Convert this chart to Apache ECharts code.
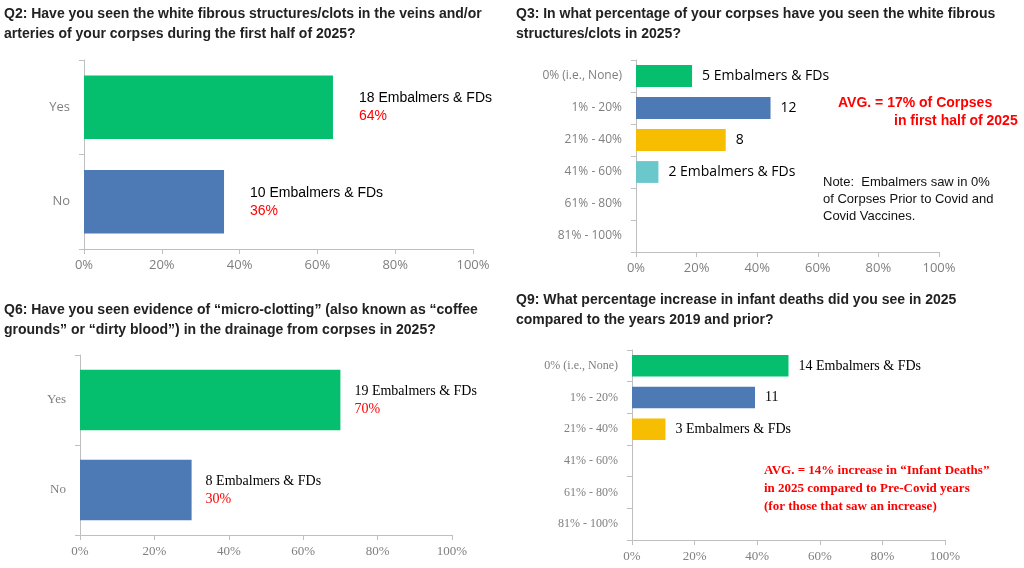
<!DOCTYPE html>
<html>
<head>
<meta charset="utf-8">
<script src="https://cdn.jsdelivr.net/npm/echarts@6/dist/echarts.min.js"></script>
<style>html,body{margin:0;background:#fff}#chart{width:1024px;height:568px}</style>
</head>
<body>
<div id="chart"></div>
<script>
// 数据
const yesNo = ['Yes', 'No'];
const q2Values = [64, 36];
const q2Counts = ['18 Embalmers & FDs', '10 Embalmers & FDs'];
const q6Values = [70, 30];
const q6Counts = ['19 Embalmers & FDs', '8 Embalmers & FDs'];
const ranges = ['0% (i.e., None)', '1% - 20%', '21% - 40%', '41% - 60%', '61% - 80%', '81% - 100%'];
const q3Values = [18.5, 44.4, 29.6, 7.4, 0, 0];
const q3Labels = ['5 Embalmers & FDs', '12', '8', '2 Embalmers & FDs', '', ''];
const q9Values = [50, 39.3, 10.7, 0, 0, 0];
const q9Labels = ['14 Embalmers & FDs', '11', '3 Embalmers & FDs', '', '', ''];
const xTicks = [0, 20, 40, 60, 80, 100];

const GREEN = '#05bf6e', BLUE = '#4d79b4', YELLOW = '#f7bd00', CYAN = '#6ac7cb';
const rangeColors = [GREEN, BLUE, YELLOW, CYAN, CYAN, CYAN];

const chart = echarts.init(document.getElementById('chart'));

const grids = [
  { left: 84, width: 389, top: 60, height: 189 },
  { left: 636, width: 303, top: 60, height: 192 },
  { left: 80, width: 372, top: 355, height: 180 },
  { left: 632, width: 313, top: 350, height: 190 }
];

function xAxis(i, narrow) {
  return {
    gridIndex: i, type: 'value', min: 0, max: 100, interval: 20,
    axisLine: { show: true, lineStyle: { color: '#bfbfbf' } },
    axisTick: { show: true, lineStyle: { color: '#bfbfbf' } },
    splitLine: { show: false },
    axisLabel: { formatter: '{value}%', color: '#7f7f7f', fontSize: 13, margin: 10,
      fontFamily: narrow ? 'Liberation Sans Narrow' : 'Open Sans' }
  };
}
function yAxis(i, cats, narrow, fs) {
  return {
    gridIndex: i, type: 'category', data: cats, inverse: true,
    axisLine: { show: true, lineStyle: { color: '#bfbfbf' } },
    axisTick: { show: true, lineStyle: { color: '#bfbfbf' } },
    axisLabel: { color: '#7f7f7f', fontSize: fs, margin: 14,
      fontFamily: narrow ? 'Liberation Sans Narrow' : 'Open Sans' }
  };
}

function yesNoSeries(i, values, counts, narrow) {
  return {
    type: 'bar', xAxisIndex: i, yAxisIndex: i, barWidth: '67%',
    data: values.map((v, k) => ({ value: v, itemStyle: { color: k === 0 ? GREEN : BLUE } })),
    label: {
      show: true, position: 'right', distance: i === 0 ? 26 : 14, align: 'left',
      formatter: p => '{a|' + counts[p.dataIndex] + '}\n{b|' + p.value + '%}',
      rich: {
        a: { color: '#000', fontSize: 14, lineHeight: 18, fontFamily: narrow ? 'Liberation Sans Narrow' : 'Liberation Sans' },
        b: { color: '#ff0000', fontSize: 14, lineHeight: 18, fontFamily: narrow ? 'Liberation Sans Narrow' : 'Liberation Sans' }
      }
    }
  };
}
function rangeSeries(i, values, labels, narrow) {
  return {
    type: 'bar', xAxisIndex: i, yAxisIndex: i, barWidth: '68%',
    data: values.map((v, k) => ({ value: v, itemStyle: { color: rangeColors[k] } })),
    label: {
      show: true, position: 'right', distance: 10, color: '#000', fontSize: 14,
      fontFamily: narrow ? 'Liberation Sans Narrow' : 'Open Sans',
      formatter: p => labels[p.dataIndex]
    }
  };
}

const titleStyle = { fontSize: 14, fontWeight: 'bold', fill: '#222', fontFamily: 'Liberation Sans', lineHeight: 20 };
const redStyle = { fontWeight: 'bold', fill: '#ff0000', fontFamily: 'Liberation Sans' };

chart.setOption({
  animation: false,
  grid: grids,
  xAxis: [xAxis(0), xAxis(1), xAxis(2, true), xAxis(3, true)],
  yAxis: [yAxis(0, yesNo, false, 13), yAxis(1, ranges, false, 12), yAxis(2, yesNo, true, 13), yAxis(3, ranges, true, 12)],
  series: [
    yesNoSeries(0, q2Values, q2Counts),
    rangeSeries(1, q3Values, q3Labels),
    yesNoSeries(2, q6Values, q6Counts, true),
    rangeSeries(3, q9Values, q9Labels, true)
  ],
  graphic: [
    { type: 'text', left: 4, top: 4, style: Object.assign({ text: 'Q2: Have you seen the white fibrous structures/clots in the veins and/or\narteries of your corpses during the first half of 2025?' }, titleStyle) },
    { type: 'text', left: 516, top: 4, style: Object.assign({ text: 'Q3: In what percentage of your corpses have you seen the white fibrous\nstructures/clots in 2025?' }, titleStyle) },
    { type: 'text', left: 4, top: 300, style: Object.assign({ text: 'Q6: Have you seen evidence of \u201cmicro-clotting\u201d (also known as \u201ccoffee\ngrounds\u201d or \u201cdirty blood\u201d) in the drainage from corpses in 2025?' }, titleStyle) },
    { type: 'text', left: 516, top: 290, style: Object.assign({ text: 'Q9: What percentage increase in infant deaths did you see in 2025\ncompared to the years 2019 and prior?' }, titleStyle) },
    { type: 'text', left: 838, top: 96, style: Object.assign({ text: 'AVG. = 17% of Corpses', fontSize: 14 }, redStyle) },
    { type: 'text', left: 894, top: 114, style: Object.assign({ text: 'in first half of 2025', fontSize: 14 }, redStyle) },
    { type: 'text', left: 823, top: 174, style: { text: 'Note:  Embalmers saw in 0%\nof Corpses Prior to Covid and\nCovid Vaccines.', fontSize: 13, lineHeight: 17, fill: '#111', fontFamily: 'Liberation Sans' } },
    { type: 'text', left: 764, top: 462, style: Object.assign({ text: 'AVG. = 14% increase in \u201cInfant Deaths\u201d\nin 2025 compared to Pre-Covid years\n(for those that saw an increase)', fontSize: 13, lineHeight: 18, fontFamily: 'Liberation Sans Narrow' }, { fontWeight: 'bold', fill: '#ff0000' }) }
  ]
});
</script>
</body>
</html>
